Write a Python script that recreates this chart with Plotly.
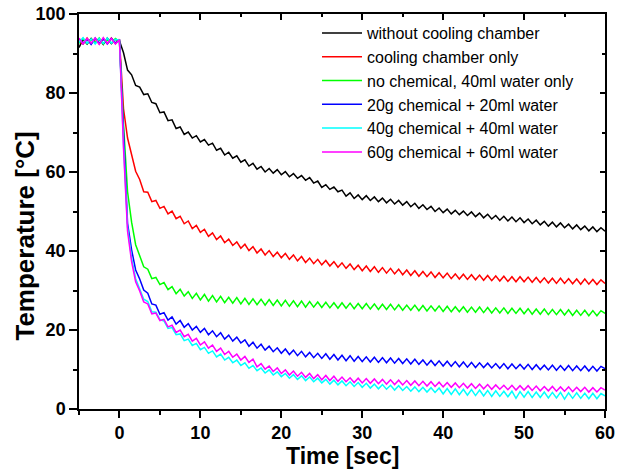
import plotly.graph_objects as go

# time grid in seconds (sampling every 0.5 s from -5 to 60)
time_sec = [i * 0.5 for i in range(-10, 121)]

series_names = [
    "without cooling chamber",
    "cooling chamber only",
    "no chemical, 40ml water only",
    "20g chemical + 20ml water",
    "40g chemical + 40ml water",
    "60g chemical + 60ml water",
]

temp_no_chamber = [
    91.5, 93.6, 92.4, 93.8, 92.6, 93.7, 92.3, 93.9, 92.5, 93.6, 93.2,
    90.2, 85.8, 84.6, 81.9, 81.5, 79.6, 79.8, 77.6, 77.3, 75.0,
    75.2, 73.0, 73.2, 71.0, 71.4, 69.5, 70.1, 68.6, 69.2, 67.6,
    68.2, 66.8, 67.3, 65.5, 66.0, 64.3, 65.0, 63.5, 64.1, 62.5,
    63.1, 61.5, 62.2, 60.7, 61.4, 60.0, 60.9, 59.7, 60.6, 59.3,
    60.1, 58.8, 59.6, 58.4, 59.1, 57.9, 58.6, 57.2, 57.7, 56.1,
    56.8, 55.6, 56.2, 55.0, 55.4, 53.9, 54.7, 53.3, 54.2, 53.0,
    54.0, 52.8, 53.7, 52.5, 53.4, 52.2, 53.1, 51.9, 52.8, 51.6,
    52.5, 51.2, 52.1, 50.8, 51.7, 50.5, 51.3, 50.0, 50.9, 49.7,
    50.6, 49.4, 50.3, 49.2, 50.1, 49.0, 49.9, 48.7, 49.6, 48.4,
    49.3, 48.1, 49.0, 47.8, 48.8, 47.6, 48.6, 47.4, 48.4, 47.2,
    48.1, 46.9, 47.8, 46.6, 47.5, 46.3, 47.3, 46.1, 47.1, 45.9,
    46.8, 45.6, 46.6, 45.4, 46.3, 45.1, 46.1, 44.9, 45.9, 45.0,
]

temp_chamber_only = [
    93.0, 92.4, 93.9, 92.5, 93.7, 92.4, 93.8, 92.6, 93.9, 92.5, 93.6,
    76.0, 68.6, 64.5, 60.2, 58.1, 55.0, 54.9, 52.5, 52.8, 50.8,
    51.3, 49.4, 50.1, 48.2, 48.8, 46.9, 47.6, 45.7, 46.5, 44.7,
    45.5, 43.7, 44.6, 42.9, 43.8, 42.1, 43.0, 41.4, 42.3, 40.7,
    41.7, 40.1, 41.1, 39.5, 40.5, 39.0, 40.1, 38.6, 39.7, 38.3,
    39.4, 37.9, 39.0, 37.5, 38.6, 37.1, 38.2, 36.8, 37.9, 36.5,
    37.6, 36.2, 37.3, 35.9, 37.0, 35.6, 36.7, 35.3, 36.4, 35.0,
    36.2, 34.8, 36.0, 34.6, 35.8, 34.4, 35.6, 34.2, 35.4, 34.0,
    35.2, 33.8, 35.0, 33.6, 34.8, 33.5, 34.7, 33.3, 34.5, 33.2,
    34.4, 33.0, 34.2, 32.9, 34.1, 32.8, 34.0, 32.7, 33.9, 32.6,
    33.8, 32.5, 33.7, 32.4, 33.6, 32.3, 33.5, 32.2, 33.5, 32.2,
    33.4, 32.1, 33.3, 32.0, 33.2, 31.9, 33.1, 31.8, 33.1, 31.8,
    33.0, 31.7, 32.9, 31.6, 32.9, 31.6, 32.8, 31.5, 32.7, 31.8,
]

temp_water_only = [
    92.6, 93.8, 92.5, 93.6, 92.7, 93.9, 92.4, 93.7, 92.6, 93.8, 93.0,
    72.0, 55.0, 47.3, 41.6, 39.0, 36.0, 35.4, 33.0, 33.3, 31.5,
    32.0, 30.2, 31.0, 29.2, 30.3, 28.6, 29.7, 28.0, 29.3, 27.6,
    29.0, 27.3, 28.7, 27.1, 28.5, 26.9, 28.3, 26.8, 28.2, 26.6,
    28.0, 26.5, 27.9, 26.4, 27.8, 26.3, 27.7, 26.2, 27.6, 26.1,
    27.5, 26.0, 27.4, 25.9, 27.3, 25.8, 27.2, 25.8, 27.1, 25.7,
    27.0, 25.6, 26.9, 25.5, 26.9, 25.5, 26.8, 25.4, 26.7, 25.4,
    26.7, 25.3, 26.6, 25.2, 26.5, 25.2, 26.5, 25.1, 26.4, 25.0,
    26.3, 25.0, 26.3, 24.9, 26.2, 24.8, 26.1, 24.8, 26.1, 24.7,
    26.0, 24.6, 25.9, 24.6, 25.9, 24.5, 25.8, 24.5, 25.8, 24.4,
    25.7, 24.3, 25.6, 24.3, 25.6, 24.2, 25.5, 24.2, 25.5, 24.1,
    25.4, 24.0, 25.3, 24.0, 25.3, 23.9, 25.2, 23.9, 25.2, 23.8,
    25.1, 23.7, 25.0, 23.7, 25.0, 23.6, 24.9, 23.6, 24.9, 24.2,
]

temp_chem20 = [
    93.8, 92.5, 93.6, 92.3, 93.9, 92.6, 93.7, 92.4, 93.8, 92.7, 93.3,
    68.0, 47.0, 40.3, 35.2, 32.9, 30.1, 29.3, 26.6, 26.3, 24.0,
    24.4, 22.5, 23.3, 21.5, 22.4, 20.7, 21.6, 20.0, 20.9, 19.4,
    20.4, 18.8, 19.8, 18.3, 19.3, 17.7, 18.7, 17.2, 18.2, 16.7,
    17.5, 15.9, 16.9, 15.4, 16.4, 14.9, 15.9, 14.5, 15.5, 14.1,
    15.2, 13.8, 14.9, 13.5, 14.6, 13.2, 14.3, 13.0, 14.1, 12.8,
    14.0, 12.6, 13.8, 12.4, 13.6, 12.2, 13.5, 12.1, 13.3, 12.0,
    13.2, 11.9, 13.1, 11.8, 13.0, 11.7, 12.9, 11.6, 12.8, 11.5,
    12.7, 11.4, 12.6, 11.3, 12.4, 11.1, 12.3, 11.0, 12.2, 10.9,
    12.1, 10.8, 12.0, 10.7, 11.9, 10.6, 11.8, 10.5, 11.7, 10.5,
    11.6, 10.4, 11.5, 10.3, 11.5, 10.2, 11.4, 10.2, 11.3, 10.1,
    11.3, 10.0, 11.2, 10.0, 11.1, 9.9, 11.1, 9.8, 11.0, 9.8,
    11.0, 9.7, 10.9, 9.7, 10.9, 9.6, 10.8, 9.6, 10.8, 10.2,
]

temp_chem40 = [
    92.8, 94.0, 92.6, 93.7, 92.4, 93.8, 92.5, 93.9, 92.6, 93.6, 93.4,
    67.0, 46.0, 38.2, 33.0, 30.3, 27.8, 27.2, 24.6, 24.5, 22.6,
    22.3, 20.4, 20.6, 18.8, 19.0, 17.3, 17.7, 16.1, 16.6, 15.0,
    15.6, 14.1, 14.7, 13.2, 13.9, 12.4, 13.1, 11.7, 12.4, 11.0,
    11.7, 10.3, 11.0, 9.7, 10.4, 9.1, 9.9, 8.6, 9.4, 8.2,
    9.0, 7.8, 8.7, 7.5, 8.4, 7.2, 8.1, 6.9, 7.8, 6.6,
    7.5, 6.3, 7.3, 6.1, 7.1, 5.9, 6.9, 5.7, 6.7, 5.5,
    6.5, 5.3, 6.3, 5.1, 6.2, 5.0, 6.0, 4.8, 5.9, 4.7,
    5.7, 4.5, 5.6, 4.4, 5.5, 4.3, 5.4, 4.2, 5.3, 3.8,
    5.2, 3.7, 5.1, 3.6, 5.0, 3.5, 4.9, 3.4, 4.8, 3.3,
    4.7, 3.2, 4.6, 3.2, 4.5, 3.1, 4.5, 2.7, 4.4, 3.0,
    4.4, 2.9, 4.3, 2.9, 4.3, 2.8, 4.2, 2.8, 4.2, 2.5,
    4.1, 2.7, 4.1, 2.7, 4.0, 2.6, 4.0, 2.6, 3.9, 3.3,
]

temp_chem60 = [
    93.9, 92.4, 93.8, 92.6, 93.9, 92.3, 94.0, 92.5, 93.8, 92.4, 93.5,
    66.0, 45.0, 37.3, 32.2, 29.9, 27.1, 26.6, 24.1, 24.3, 22.4,
    22.7, 20.8, 21.2, 19.4, 20.0, 18.3, 18.9, 17.2, 17.9, 16.2,
    17.0, 15.4, 16.2, 14.6, 15.4, 13.8, 14.6, 13.1, 13.9, 12.4,
    13.3, 11.8, 12.6, 10.7, 11.5, 10.1, 10.9, 9.5, 10.4, 9.0,
    9.9, 8.6, 9.6, 8.3, 9.3, 8.0, 9.0, 7.7, 8.7, 7.4,
    8.5, 7.2, 8.3, 7.0, 8.1, 6.9, 7.9, 6.7, 7.8, 6.6,
    7.7, 6.5, 7.6, 6.4, 7.5, 6.3, 7.4, 6.2, 7.3, 6.1,
    7.2, 6.0, 7.1, 5.9, 7.0, 5.8, 6.9, 5.7, 6.8, 5.6,
    6.7, 5.5, 6.6, 5.4, 6.5, 5.3, 6.4, 5.2, 6.3, 5.1,
    6.2, 5.0, 6.1, 5.0, 6.0, 4.9, 6.0, 4.8, 5.9, 4.8,
    5.9, 4.7, 5.8, 4.6, 5.7, 4.6, 5.7, 4.5, 5.6, 4.5,
    5.6, 4.4, 5.5, 4.4, 5.5, 4.3, 5.4, 4.3, 5.4, 4.8,
]

series_values = [temp_no_chamber, temp_chamber_only, temp_water_only,
                 temp_chem20, temp_chem40, temp_chem60]
series_colors = ["#000000", "#FF0000", "#00FF00", "#0000FF", "#00FFFF", "#FF00FF"]

x_tick_values = [0, 10, 20, 30, 40, 50, 60]
y_tick_values = [0, 20, 40, 60, 80, 100]

FONT = "Liberation Sans, Arial, sans-serif"

fig = go.Figure()
for name, vals, col in zip(series_names, series_values, series_colors):
    fig.add_trace(go.Scatter(x=time_sec, y=vals, mode="lines", name=name,
                             line=dict(color=col, width=1.5)))

# helper trace for the mirrored top/right axes
fig.add_trace(go.Scatter(x=[None], y=[None], xaxis="x2", yaxis="y2",
                         showlegend=False, hoverinfo="skip"))

tickfont = dict(family=FONT, size=18, color="black", weight="bold")
common = dict(tickwidth=1.5, tickcolor="black", showline=True, linewidth=1.5,
              linecolor="black", showgrid=False, zeroline=False,
              automargin=False)

fig.update_layout(
    template="none",
    width=623, height=471,
    margin=dict(l=79, r=18, t=14, b=62, autoexpand=False),
    paper_bgcolor="white", plot_bgcolor="white",
    showlegend=True,
    legend=dict(x=0.4525, y=0.995, xanchor="left", yanchor="top",
                font=dict(family=FONT, size=16, color="black"),
                bgcolor="rgba(255,255,255,0)", borderwidth=0, itemwidth=40,
                tracegroupgap=0),
    xaxis=dict(range=[-5, 60], tickvals=x_tick_values, ticks="outside",
               ticklen=7, tickfont=tickfont,
               minor=dict(dtick=5, tick0=0, ticks="outside", ticklen=4,
                          tickwidth=1.5, tickcolor="black", showgrid=False),
               **common),
    xaxis2=dict(range=[-5, 60], overlaying="x", side="top",
                tickvals=x_tick_values, ticks="inside", ticklen=6,
                showticklabels=False,
                minor=dict(dtick=5, tick0=0, ticks="inside", ticklen=3,
                           tickwidth=1.5, tickcolor="black", showgrid=False),
                **common),
    yaxis=dict(range=[0, 100], tickvals=y_tick_values, ticks="outside",
               ticklen=8, tickfont=tickfont, ticklabeloverflow="allow",
               minor=dict(dtick=10, tick0=0, ticks="outside", ticklen=4,
                          tickwidth=1.5, tickcolor="black", showgrid=False),
               **common),
    yaxis2=dict(range=[0, 100], overlaying="y", side="right",
                tickvals=y_tick_values, ticks="inside", ticklen=5,
                showticklabels=False,
                minor=dict(dtick=10, tick0=0, ticks="inside", ticklen=3,
                           tickwidth=1.5, tickcolor="black", showgrid=False),
                **common),
    annotations=[
        dict(text="Time [sec]", xref="paper", yref="paper", x=0.5, y=-0.157,
             xanchor="center", yanchor="bottom", showarrow=False,
             font=dict(family=FONT, size=23, color="black", weight="bold")),
        dict(text="Temperature [°C]", xref="paper", yref="paper",
             x=-0.1027, y=0.439, xanchor="center", yanchor="middle",
             textangle=-90, showarrow=False,
             font=dict(family=FONT, size=26, color="black", weight="bold")),
    ],
)

# remove the browser's default 8 px body margin so the figure sits at (0, 0)
fig.write_html("out.html",
               config={"displayModeBar": False},
               post_script="document.body.style.margin='0px';")
